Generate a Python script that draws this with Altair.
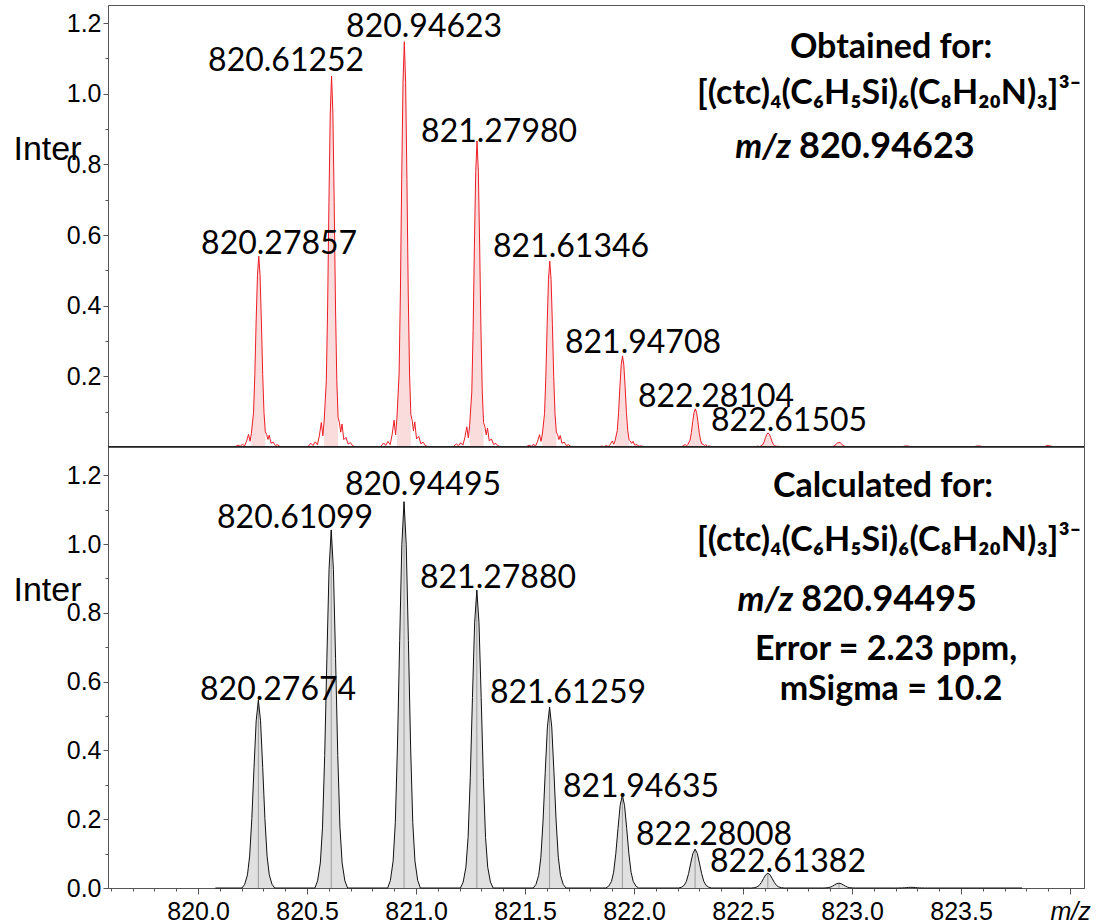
import altair as alt
import pandas as pd

# ---------------- data ----------------
# Obtained (measured) spectrum, top panel
obs_mz = [820.27857, 820.61252, 820.94623, 821.27980, 821.61346, 821.94708,
          822.28104, 822.61505, 822.940, 823.250, 823.580, 823.900]
obs_int = [0.540, 1.050, 1.147, 0.866, 0.526, 0.258, 0.108, 0.040, 0.013, 0.003, 0.003, 0.004]
obs_labels = ["820.27857", "820.61252", "820.94623", "821.27980",
              "821.61346", "821.94708", "822.28104", "822.61505"]
obs_label_mz = [820.372, 820.404, 821.037, 821.381, 821.711, 822.041, 822.376, 822.711]
obs_label_int = [0.546, 1.064, 1.160, 0.863, 0.538, 0.266, 0.113, 0.045]
# measured peak profile (offset in m/z, fraction of peak height)
obs_shape_dx = [-0.110, -0.095, -0.085, -0.075, -0.065, -0.056, -0.047, -0.040, -0.034,
                -0.024, -0.018, -0.012, -0.006, 0.0, 0.006, 0.012, 0.018, 0.024, 0.030,
                0.036, 0.042, 0.048, 0.056, 0.066, 0.076, 0.086, 0.096, 0.110]
obs_shape_rel = [0.0, 0.010, 0.004, 0.014, 0.006, 0.030, 0.066, 0.030, 0.070,
                 0.18, 0.38, 0.66, 0.90, 1.0, 0.90, 0.66, 0.38, 0.18, 0.08,
                 0.066, 0.040, 0.062, 0.020, 0.026, 0.008, 0.012, 0.004, 0.0]
obs_core = 0.034
obs_range = [820.15, 823.92]

# Calculated (simulated) spectrum, bottom panel
calc_mz = [820.27674, 820.61099, 820.94495, 821.27880, 821.61259, 821.94635,
           822.28008, 822.61382, 822.940, 823.270]
calc_int = [0.546, 1.041, 1.123, 0.866, 0.526, 0.270, 0.113, 0.043, 0.014, 0.002]
calc_labels = ["820.27674", "820.61099", "820.94495", "821.27880",
               "821.61259", "821.94635", "822.28008", "822.61382"]
calc_label_mz = [820.367, 820.445, 821.032, 821.376, 821.697, 822.032, 822.367, 822.706]
calc_label_int = [0.547, 1.047, 1.142, 0.872, 0.538, 0.264, 0.125, 0.047]
calc_shape_dx = [-0.075, -0.0625, -0.05, -0.04, -0.03, -0.02, -0.01, 0.0,
                 0.01, 0.02, 0.03, 0.04, 0.05, 0.0625, 0.075]
calc_shape_rel = [0.0, 0.02, 0.07, 0.17, 0.37, 0.64, 0.89, 1.0,
                  0.89, 0.64, 0.37, 0.17, 0.07, 0.02, 0.0]
calc_range = [820.08, 823.78]

# Annotation blocks (anchor in data units)
top_info_center = ["Obtained for:", "[(ctc)₄(C₆H₅Si)₆(C₈H₂₀N)₃]³⁻"]
top_info_center_mz = [823.179, 823.170]
top_info_center_int = [1.101, 0.971]
top_mz_italic = ["m/z"]
top_mz_value = ["820.94623"]
top_mz_line = [822.720, 822.757, 0.818]

bot_info_center = ["Calculated for:", "[(ctc)₄(C₆H₅Si)₆(C₈H₂₀N)₃]³⁻",
                   "Error = 2.23 ppm,", "mSigma = 10.2"]
bot_info_center_mz = [823.142, 823.170, 823.156, 823.179]
bot_info_center_int = [1.137, 0.980, 0.663, 0.547]
bot_mz_italic = ["m/z"]
bot_mz_value = ["820.94495"]
bot_mz_line = [822.730, 822.767, 0.805]

x_ticks = [round(819.6 + 0.1 * i, 1) for i in range(45)]
y_ticks_top = [round(0.1 * i, 1) for i in range(1, 13)]
y_ticks_bot = [round(0.1 * i, 1) for i in range(13)]

X_DOMAIN = [819.587, 824.064]
TOP_Y = [0, 1.251]
BOT_Y = [0, 1.282]
W = 976

# ---------------- build tables ----------------
def build(mzs, ints, dxs, rels, rng, core=None):
    rows = [{"mz": rng[0], "inten": 0.0, "peak": -1, "core": False}]
    for i, (m, h) in enumerate(zip(mzs, ints)):
        for dx, r in zip(dxs, rels):
            rows.append({"mz": m + dx, "inten": h * r, "peak": i,
                         "core": (core is None) or (abs(dx) <= core + 1e-9)})
    rows.append({"mz": rng[1], "inten": 0.0, "peak": -1, "core": False})
    return pd.DataFrame(rows).sort_values("mz").reset_index(drop=True)

obs_df = build(obs_mz, obs_int, obs_shape_dx, obs_shape_rel, obs_range, obs_core)
calc_df = build(calc_mz, calc_int, calc_shape_dx, calc_shape_rel, calc_range)

AX_FONT = "Liberation Sans"
AX_COLOR = "#555555"

x_minor_test = "round(datum.value*10) % 5 != 0"
y_minor_test = "round(datum.value*10) % 2 == 1"


def xenc(show):
    sc = alt.Scale(domain=X_DOMAIN, nice=False, zero=False)
    if not show:
        return alt.X("mz:Q", scale=sc, axis=None)
    ax = alt.Axis(
        values=x_ticks, title=None, grid=False,
        labelExpr="abs(datum.value-824)<0.01 ? 'm/z' : (round(datum.value*10) % 5 == 0 ? format(datum.value, '.1f') : '')",
        labelFontStyle={"condition": {"test": "abs(datum.value-824)<0.01", "value": "italic"}, "value": "normal"},
        labelFont=AX_FONT, labelFontSize=25, labelColor="black", labelPadding=5,
        labelOverlap=False, labelFlush=False,
        tickSize={"condition": {"test": x_minor_test, "value": 3}, "value": 6},
        tickColor=AX_COLOR, domainColor=AX_COLOR,
    )
    return alt.X("mz:Q", scale=sc, axis=ax)


def yenc(domain, ticks, title_y):
    expr = "round(datum.value*10) % 2 == 0 ? format(datum.value, '.1f') : ''"
    ax = alt.Axis(
        values=ticks, grid=False, labelExpr=expr,
        labelFont=AX_FONT, labelFontSize=25, labelColor="black", labelPadding=2,
        labelOverlap=False, labelFlush=False,
        tickSize={"condition": {"test": y_minor_test, "value": 3}, "value": 5},
        tickColor=AX_COLOR, domainColor=AX_COLOR,
        title="Inter", titleAngle=0, titleAlign="left", titleBaseline="alphabetic",
        titleX=-95, titleY=title_y, titleFont=AX_FONT, titleFontSize=34,
        titleFontWeight="normal", titleColor="black",
    )
    return alt.Y("inten:Q", scale=alt.Scale(domain=domain, nice=False), axis=ax, stack=None)


def text_df(mzs, ints, texts):
    return pd.DataFrame({"mz": mzs, "inten": ints, "label": texts})


def panel(df, peaks_mz, peaks_int, labels, lab_mz, lab_int, ydom, yticks, show_x,
          title_y, line_color, fill_color, centers, info, mzline):
    X = xenc(show_x)
    Y = yenc(ydom, yticks, title_y)
    layers = []
    core = df[df["core"] & (df["peak"] >= 0)]
    layers.append(alt.Chart(core).mark_area(color=fill_color, opacity=1, interpolate="linear")
                  .encode(x=X, y=Y, detail="peak:N"))
    if centers:
        cdf = pd.DataFrame({"mz": peaks_mz, "inten": peaks_int, "base": [0.0] * len(peaks_mz)})
        layers.append(alt.Chart(cdf).mark_rule(color="#9a9a9a", strokeWidth=1)
                      .encode(x=X, y=Y, y2="base:Q"))
    layers.append(alt.Chart(df).mark_line(color=line_color, strokeWidth=1, interpolate="linear")
                  .encode(x=X, y=Y, order="mz:Q"))
    if not show_x:
        layers.append(alt.Chart(pd.DataFrame({"inten": [0.0]})).mark_rule(color="#222222", strokeWidth=2)
                      .encode(y=Y))
    layers.append(alt.Chart(text_df(lab_mz, lab_int, labels))
                  .mark_text(font="Lato", fontSize=32, align="center", baseline="alphabetic", color="black")
                  .encode(x=X, y=Y, text="label:N"))
    imz, iint, itxt = info
    layers.append(alt.Chart(text_df(imz, iint, itxt))
                  .mark_text(font="Lato", fontSize=34, fontWeight="bold", align="center",
                             baseline="alphabetic", color="black")
                  .encode(x=X, y=Y, text="label:N"))
    it, val, (mx1, mx2, my) = mzline
    layers.append(alt.Chart(text_df([mx1], [my], it))
                  .mark_text(font="Lato", fontSize=34, fontWeight="bold", fontStyle="italic",
                             align="right", baseline="alphabetic", color="black")
                  .encode(x=X, y=Y, text="label:N"))
    layers.append(alt.Chart(text_df([mx2], [my], val))
                  .mark_text(font="Lato", fontSize=36, fontWeight="bold",
                             align="left", baseline="alphabetic", color="black")
                  .encode(x=X, y=Y, text="label:N"))
    return alt.layer(*layers)


top = panel(obs_df, obs_mz, obs_int, obs_labels, obs_label_mz, obs_label_int, TOP_Y, y_ticks_top,
            False, 154, "#ee1c25", "#fbdcdc", False,
            (top_info_center_mz, top_info_center_int, top_info_center),
            (top_mz_italic, top_mz_value, top_mz_line)).properties(width=W, height=442)

bot = panel(calc_df, calc_mz, calc_int, calc_labels, calc_label_mz, calc_label_int, BOT_Y, y_ticks_bot,
            True, 153, "#111111", "#e0e0e0", True,
            (bot_info_center_mz, bot_info_center_int, bot_info_center),
            (bot_mz_italic, bot_mz_value, bot_mz_line)).properties(width=W, height=441)

chart = (alt.vconcat(top, bot, spacing=0, bounds="flush")
         .properties(padding={"left": 12, "top": 4, "right": 5, "bottom": 0}, background="white")
         .configure_view(stroke=AX_COLOR, strokeWidth=1))

chart.save("out.html", embed_options={"renderer": "svg", "actions": False})
